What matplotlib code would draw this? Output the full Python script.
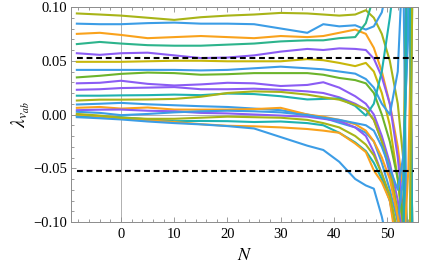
import matplotlib
matplotlib.use("Agg")
import matplotlib.pyplot as plt
from matplotlib.ticker import MultipleLocator, FuncFormatter
import numpy as np

plt.rcParams['font.family'] = 'serif'
plt.rcParams['font.serif'] = ['Liberation Serif', 'DejaVu Serif']
plt.rcParams['mathtext.fontset'] = 'stix'

# sample points along N (in units of 1e-3)
N = [-8.3, -4, 0, 5, 10, 15, 20, 25, 30, 35, 38, 41, 44, 46, 47.5, 49, 50.5, 52, 53, 54, 55]

lam01 = [94, 93, 92, 90, 88, 90.5, 92, 93, 94.5, 94, 93, 92, 93, 97, 90, 75, 50, 10, -40, -120, -200]
lam02 = [84.5, 84, 84, 85, 85.5, 84.5, 84.5, 84, 80, 76, 84, 82, 83, 79, 82, 95, 130, 200, 200, 200, 200]
lam03 = [75, 76, 74, 71, 72, 73, 72, 71, 73, 72, 73, 76, 79, 75, 62, 40, 10, -30, -70, 250, -250]
lam04 = [65.5, 67.5, 66, 64.5, 64, 64, 65, 66, 68, 69, 69, 71, 72, 85, 110, 150, 200, 200, 200, 200, 200]
lam05 = [57, 55.5, 57, 57.5, 55, 52.5, 53, 55, 58.5, 61, 60, 61.5, 61, 60, 52, 35, 10, -40, -90, -150, -200]
lam06 = [49, 49, 49, 49.5, 50, 50, 49.5, 49.5, 49.5, 51.5, 50.5, 48, 45, 48, 40, 20, -10, -60, -110, -200, -200]
lam07 = [41.5, 41.5, 41.5, 41.5, 41.5, 41, 41.5, 43, 44.5, 43, 42, 40, 38, 33, 25, 10, 0, 40, 150, -250, 250]
lam08 = [34.5, 36, 37.8, 39, 38.5, 37, 37.5, 38.5, 38.5, 38.5, 37, 34, 32, 29, 20, 0, -25, -60, -100, 250, -250]
lam09 = [29, 29.5, 31.4, 28.5, 27, 28, 29.5, 29, 26.5, 27.5, 30, 25, 17, 10, 0, -20, -45, -80, -120, -200, -250]
lam10 = [23, 23.5, 24.6, 25, 25.5, 23.5, 23.5, 24, 23, 21.5, 20, 16, 10, 4.5, -5, -25, -55, -95, -150, 250, -250]
lam11 = [17.5, 17.5, 17.8, 18, 18.5, 18, 19.5, 19, 17, 14, 14.5, 15, 8, -1, 10, 40, 90, 150, 250, 250, 250]
lam12 = [13, 13.8, 13.8, 14, 14.5, 16.5, 20, 21.5, 21, 18.5, 16, 13.8, 9, 5, -5, -25, -50, -90, -140, -220, -250]
lam13 = [9.3, 10, 10.8, 9.5, 8.6, 7.7, 7, 5.5, 4, 0, -3, -7.7, -12, -17, -25, -45, -70, -100, -60, 100, 250]
lam14 = [6.2, 7, 5.5, 6.5, 4.6, 4.5, 4.6, 5, 6.2, 0, -2, -5, -9, -15, -25, -40, -60, -95, -140, -50, 200]
lam15 = [4, 4.5, 4.6, 3.5, 3, 1.5, 1, 0, -1, -2, -4, -6, -12, -20, -35, -55, -80, -120, -180, -250, -250]
lam16 = [2.5, 1.5, -0.6, 0.5, 2, 3, 3.5, 3, 2, -0.5, -3, -5, -8, -10, -15, -30, -50, -70, -40, 80, 250]
lam17 = [-1.5, -2, -2.5, -4.5, -6.2, -6, -6.2, -7, -6.5, -8, -10, -17, -26, -34, -45, -60, -80, -110, -150, 250, -250]
lam18 = [0, -1.5, -3.7, -5.5, -7, -9, -10.5, -11, -12, -13.5, -15, -17, -27, -35, -52, -63, -80, -130, -200, -250, -250]
lam19 = [-2.5, -3.5, -4.6, -6.5, -8, -9.2, -10.8, -13, -21, -29, -33, -44, -60, -66, -69, -95, -130, -180, -250, -250, -250]
lam20 = [0.5, -1, -3, -4, -4, -3, -2, -2.5, -3, -5, -8, -12, -20, -28, -38, -55, -75, -110, -160, -250, 250]

series = [lam01, lam02, lam03, lam04, lam05, lam06, lam07, lam08, lam09, lam10,
          lam11, lam12, lam13, lam14, lam15, lam16, lam17, lam18, lam19, lam20]

olive = '#a8b418'
yellow = '#c8b70a'
blue = '#3c9de6'
orange = '#f9a21c'
tealgreen = '#2db48c'
purple = '#8b5cf4'
green = '#6cb42c'
teal = '#1fb2b0'
colors = [olive, blue, orange, tealgreen, purple, yellow, blue, green, purple, purple,
          teal, olive, blue, orange, purple, blue, teal, orange, blue, olive]

bound = 0.053

fig = plt.figure(figsize=(4.21, 2.73), dpi=100)
ax = fig.add_axes([71/421, 1 - 222/273, (418 - 71)/421, (222 - 7)/273])

ax.axhline(0, color='#b0b0b0', lw=0.7, zorder=0)
ax.axvline(0, color='#b0b0b0', lw=0.7, zorder=0)

for vals, c in zip(series, colors):
    ax.plot(N, np.array(vals) / 1000.0, color=c, lw=1.5, solid_joinstyle='round')

ax.plot([N[0], N[-1]], [bound, bound], color='black', lw=1.5, dashes=(2.8, 1.8))
ax.plot([N[0], N[-1]], [-bound, -bound], color='black', lw=1.5, dashes=(2.8, 1.8))

ax.set_xlim(-9.4, 55.8)
ax.set_ylim(-0.1, 0.1)

ax.xaxis.set_major_locator(MultipleLocator(10))
ax.xaxis.set_minor_locator(MultipleLocator(2))
ax.yaxis.set_major_locator(MultipleLocator(0.05))
ax.yaxis.set_minor_locator(MultipleLocator(0.01))
ax.yaxis.set_major_formatter(FuncFormatter(lambda v, p: f"{v:.2f}".replace('-', '\u2212')))
ax.xaxis.set_major_formatter(FuncFormatter(lambda v, p: f"{v:.0f}".replace('-', '\u2212')))

for s in ax.spines.values():
    s.set_color('#8c8c8c')
    s.set_linewidth(0.7)
ax.tick_params(which='both', direction='in', top=True, right=True, color='#8c8c8c', width=0.6)
ax.tick_params(which='major', length=3.5, labelsize=10.5, pad=3)
ax.tick_params(which='minor', length=2)
ax.tick_params(axis='x', which='major', pad=4)

ax.set_xlabel('$N$', fontsize=13, labelpad=5)
ax.set_ylabel(r'$\lambda_{v_{ab}}$', fontsize=14, labelpad=1)

plt.savefig('out.png', dpi=100)
